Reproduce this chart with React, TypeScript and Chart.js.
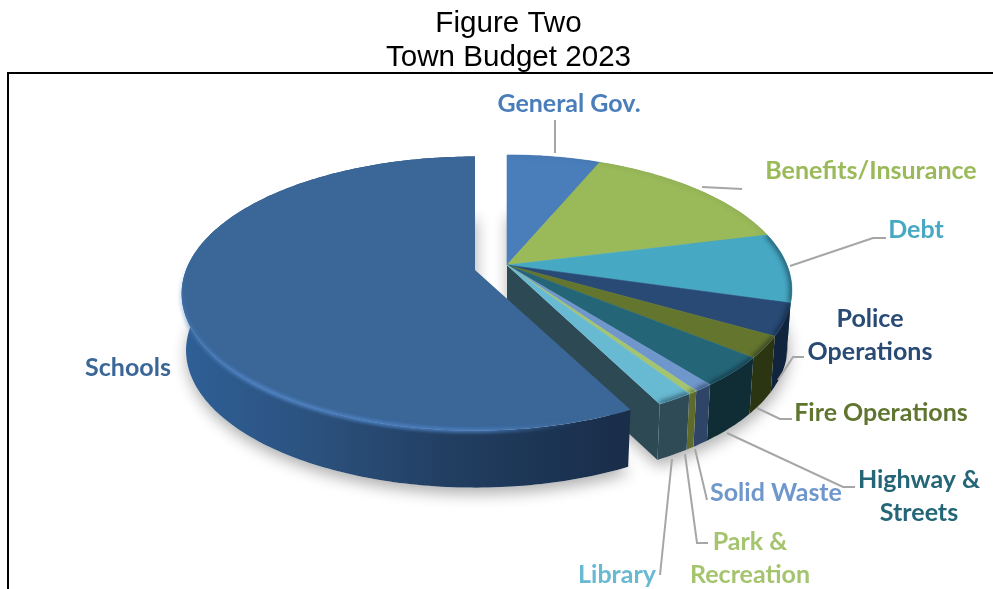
import React, { useEffect, useRef } from "react";
import { Chart, registerables } from "chart.js";

Chart.register(...registerables);

// ---- data (percent of the town budget) ----
const categories = ["General Gov.", "Benefits/Insurance", "Debt", "Police Operations", "Fire Operations", "Highway & Streets", "Solid Waste", "Park & Recreation", "Library", "Schools"];
const budgetShares = [6.33, 14.81, 8.33, 3.78, 2.58, 3.53, 0.92, 0.44, 1.75, 57.53];
const titleLines = ["Figure Two", "Town Budget 2023"];

// ---- styles ----
const topColors = ["#4a7ebb", "#9aba59", "#46a8c3", "#284a75", "#64762d", "#246678", "#7097cc", "#a5c46f", "#68b9d2", "#3a6698"];
const sideColors = ["#2f527c", "#66793a", "#24667c", "#10243d", "#2c3511", "#102c35", "#2f4568", "#5f6b2c", "#2e4b56", "#1d3654"];
const labelColors = ["#4a7ebb", "#9aba59", "#46a8c3", "#284a75", "#5f7530", "#246678", "#7097cc", "#a5c46f", "#68b9d2", "#3a6698"];
const CUT_FACE = "#2d4a54";
const LEADER = "#a6a6a6";
const LABEL_FONT = "bold 25px Lato";

// label text lines and leader polylines, in page pixels
const labelLayout: { lines: string[]; x: number; y: number; color: number }[] = [
  { lines: ["General Gov."], x: 569, y: 104, color: 0 },
  { lines: ["Benefits/Insurance"], x: 871, y: 171, color: 1 },
  { lines: ["Debt"], x: 916, y: 230, color: 2 },
  { lines: ["Police", "Operations"], x: 870, y: 319, color: 3 },
  { lines: ["Fire Operations"], x: 881, y: 413, color: 4 },
  { lines: ["Highway &", "Streets"], x: 919, y: 480, color: 5 },
  { lines: ["Solid Waste"], x: 776, y: 493, color: 6 },
  { lines: ["Park &", "Recreation"], x: 750, y: 542, color: 7 },
  { lines: ["Library"], x: 617, y: 575, color: 8 },
  { lines: ["Schools"], x: 128, y: 368, color: 9 },
];
const leaderLines: number[][][] = [
  [[555, 120], [555, 153]],
  [[702, 187], [742, 189]],
  [[790, 266], [873, 238], [886, 238]],
  [[778, 380], [793, 357], [804, 357]],
  [[757, 408], [780, 419], [792, 419]],
  [[727, 433], [843, 487], [855, 487]],
  [[695, 449], [707, 500]],
  [[685, 454], [697, 543], [708, 543]],
  [[672, 459], [660, 575]],
];

// perspective of the disc: the wedge and the pulled-out Schools slice
type Disc = { cx: number; cy: number; R: number; Ry: number; p: number; depth: number };
const wedgeDisc: Disc = { cx: 507, cy: 265, R: 280, Ry: 130.4, p: 0.185, depth: 56 };
const schoolsDisc: Disc = { cx: 475, cy: 270, R: 289, Ry: 133, p: 0.172, depth: 57 };
const BOTTOM_SCALE = 0.985;

const rim = (d: Disc, a: number, low = false): [number, number] => {
  const s = 1 / (1 - d.p * Math.sin(a));
  const x = d.R * Math.cos(a) * s;
  const y = d.Ry * Math.sin(a) * s;
  return low ? [d.cx + x * BOTTOM_SCALE, d.cy + y + d.depth] : [d.cx + x, d.cy + y];
};
const STEP = Math.PI / 180;
const traceRim = (ctx: CanvasRenderingContext2D, d: Disc, a: number, b: number, low = false, move = false) => {
  const n = Math.max(2, Math.ceil(Math.abs(b - a) / STEP));
  for (let i = 0; i <= n; i++) {
    const p = rim(d, a + ((b - a) * i) / n, low);
    if (i === 0 && move) ctx.moveTo(p[0], p[1]);
    else ctx.lineTo(p[0], p[1]);
  }
};
const topPath = (ctx: CanvasRenderingContext2D, d: Disc, a: number, b: number) => {
  ctx.beginPath();
  ctx.moveTo(d.cx, d.cy);
  traceRim(ctx, d, a, b);
  ctx.closePath();
};
const sidePath = (ctx: CanvasRenderingContext2D, d: Disc, a: number, b: number) => {
  ctx.beginPath();
  traceRim(ctx, d, a, b, false, true);
  traceRim(ctx, d, b, a, true);
  ctx.closePath();
};

const pie3d = {
  id: "pie3d",
  beforeDraw(chart: any) {
    const ctx: CanvasRenderingContext2D = chart.ctx;
    ctx.save();
    ctx.fillStyle = "#ffffff";
    ctx.fillRect(0, 0, chart.width, chart.height);
    ctx.strokeStyle = "#000000";
    ctx.lineWidth = 2;
    ctx.beginPath();
    ctx.moveTo(8, chart.height);
    ctx.lineTo(8, 73);
    ctx.lineTo(chart.width, 73);
    ctx.stroke();
    ctx.restore();
  },
  beforeDatasetDraw(chart: any) {
    const ctx: CanvasRenderingContext2D = chart.ctx;
    const arcs = chart.getDatasetMeta(0).data;
    const last = arcs.length - 1;
    const wedgeStart = arcs[0].startAngle;
    const wedgeEnd = arcs[last - 1].endAngle;

    // soft shadow thrown by the bottom plane only
    const groundShadow = (d: Disc, a: number, b: number) => {
      ctx.save();
      ctx.shadowColor = "rgba(0,0,0,0.32)";
      ctx.shadowBlur = 15;
      ctx.shadowOffsetY = 6;
      ctx.shadowOffsetX = 1;
      ctx.fillStyle = "#ffffff";
      ctx.beginPath();
      ctx.moveTo(d.cx, d.cy + d.depth);
      traceRim(ctx, d, a, b, true);
      ctx.closePath();
      ctx.fill();
      ctx.restore();
    };

    // ---- everything except Schools ----
    groundShadow(wedgeDisc, wedgeStart, wedgeEnd);
    const p0 = rim(wedgeDisc, wedgeEnd);
    const p1 = rim(wedgeDisc, wedgeEnd, true);
    ctx.fillStyle = CUT_FACE;
    ctx.beginPath();
    ctx.moveTo(wedgeDisc.cx, wedgeDisc.cy);
    ctx.lineTo(p0[0], p0[1]);
    ctx.lineTo(p1[0], p1[1]);
    ctx.lineTo(wedgeDisc.cx, wedgeDisc.cy + wedgeDisc.depth);
    ctx.closePath();
    ctx.fill();
    for (let i = 0; i < last; i++) {
      ctx.fillStyle = sideColors[i];
      sidePath(ctx, wedgeDisc, arcs[i].startAngle, arcs[i].endAngle);
      ctx.fill();
    }
    for (let i = 0; i < last; i++) {
      const { startAngle: a, endAngle: b } = arcs[i];
      ctx.fillStyle = topColors[i];
      topPath(ctx, wedgeDisc, a, b);
      ctx.fill();
      ctx.strokeStyle = topColors[i];
      ctx.lineWidth = 0.6;
      ctx.stroke();
      // soft dark bevel along the rim
      ctx.save();
      topPath(ctx, wedgeDisc, a, b);
      ctx.clip();
      ctx.filter = "blur(2.5px)";
      ctx.strokeStyle = i < 2 ? "rgba(20,50,70,0.15)" : "rgba(5,20,35,0.55)";
      ctx.lineWidth = i < 2 ? 2 : 5;
      ctx.beginPath();
      traceRim(ctx, wedgeDisc, a, b, false, true);
      ctx.stroke();
      ctx.restore();
    }

    // ---- Schools, pulled out to the left ----
    const s = arcs[last];
    groundShadow(schoolsDisc, s.startAngle, s.endAngle);
    const grad = ctx.createLinearGradient(182, 0, 628, 0);
    grad.addColorStop(0, "#2e5f96");
    grad.addColorStop(0.27, "#2c5380");
    grad.addColorStop(0.6, "#223e61");
    grad.addColorStop(0.85, "#1b3352");
    grad.addColorStop(1, "#1a2d49");
    ctx.fillStyle = grad;
    sidePath(ctx, schoolsDisc, s.startAngle, s.endAngle);
    ctx.fill();
    ctx.fillStyle = topColors[last];
    topPath(ctx, schoolsDisc, s.startAngle, s.endAngle);
    ctx.fill();
    // lighter bevel on the front-left rim, fading towards both ends
    ctx.save();
    const glow = ctx.createConicGradient(0, 475, 295);
    glow.addColorStop(0, "rgba(78,130,195,0)");
    glow.addColorStop(0.14, "rgba(78,130,195,0)");
    glow.addColorStop(0.24, "rgba(78,130,195,0.7)");
    glow.addColorStop(0.44, "rgba(78,130,195,0.85)");
    glow.addColorStop(0.52, "rgba(78,130,195,0)");
    glow.addColorStop(1, "rgba(78,130,195,0)");
    ctx.filter = "blur(1.5px)";
    ctx.strokeStyle = glow;
    ctx.lineWidth = 5;
    ctx.beginPath();
    const q = rim(schoolsDisc, s.startAngle);
    ctx.moveTo(q[0], q[1]);
    traceRim(ctx, schoolsDisc, s.startAngle, s.startAngle + 2.6);
    ctx.stroke();
    ctx.restore();
    return false;
  },
  afterDraw(chart: any) {
    const ctx: CanvasRenderingContext2D = chart.ctx;
    ctx.save();
    ctx.strokeStyle = LEADER;
    ctx.lineWidth = 2;
    for (const line of leaderLines) {
      ctx.beginPath();
      line.forEach((p, i) => (i ? ctx.lineTo(p[0], p[1]) : ctx.moveTo(p[0], p[1])));
      ctx.stroke();
    }
    ctx.font = LABEL_FONT;
    ctx.textAlign = "center";
    ctx.textBaseline = "middle";
    for (const l of labelLayout) {
      ctx.fillStyle = labelColors[l.color];
      l.lines.forEach((t, i) => ctx.fillText(t, l.x, l.y + i * 32.5));
    }
    ctx.restore();
  },
};

export default function App() {
  const ref = useRef<HTMLCanvasElement | null>(null);
  useEffect(() => {
    const chart = new Chart(ref.current as HTMLCanvasElement, {
      type: "pie",
      data: {
        labels: categories,
        datasets: [{ data: budgetShares, backgroundColor: topColors, borderWidth: 0 }],
      },
      options: {
        animation: false,
        responsive: false,
        devicePixelRatio: 1,
        layout: { padding: { left: 24, top: 0, right: 0, bottom: 0 } },
        plugins: {
          legend: { display: false },
          tooltip: { enabled: false },
          title: {
            display: true,
            text: titleLines,
            color: "#000000",
            font: { family: "'Liberation Sans'", size: 29.6, weight: "normal", lineHeight: 1.15 },
            padding: { top: 7, bottom: 0 },
          },
        },
      },
      plugins: [pie3d],
    } as any);
    return () => chart.destroy();
  }, []);
  return (
    <div style={{ position: "absolute", left: 0, top: 0, width: 993, height: 589 }}>
      <canvas ref={ref} width={993} height={589} style={{ display: "block" }} />
    </div>
  );
}
